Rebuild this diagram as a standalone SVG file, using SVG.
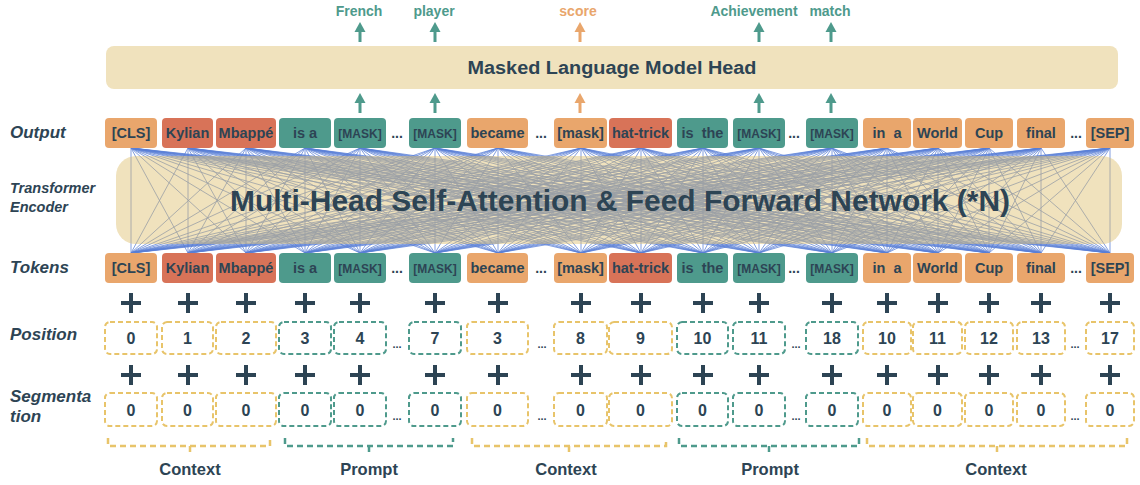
<svg xmlns="http://www.w3.org/2000/svg" width="1140" height="485" viewBox="0 0 1140 485">
<defs>
<style>
text{font-family:"Liberation Sans",Arial,sans-serif;fill:#2d4454;}
.lbl{font-weight:bold;font-style:italic;font-size:17px;}
.tk{font-size:14.5px;font-weight:bold;text-anchor:middle;}
.mk{font-size:12px;font-weight:bold;text-anchor:middle;}
.o{fill:#e9a66c}.r{fill:#d87358}.g{fill:#4e9a8c}
.dy{fill:#fff;stroke:#e8c46a;stroke-width:2;stroke-dasharray:5 3}
.dg{fill:#fff;stroke:#4e9a8c;stroke-width:2;stroke-dasharray:5 3}
.num{font-size:16px;font-weight:bold;text-anchor:middle;}
.plus{fill:none;stroke:#2d4454;stroke-width:4}
.br{fill:none;stroke-width:2.5;stroke-dasharray:6 4}
.dots{font-size:14px;font-weight:bold;text-anchor:middle}
.sdots{font-size:11px;font-weight:bold;text-anchor:middle}
.top{font-size:14px;font-weight:bold;text-anchor:middle}
.bot{font-size:16.5px;font-weight:bold;text-anchor:middle}
</style>
<clipPath id="boxclip"><rect x="116" y="156" width="1006" height="88" rx="20"/></clipPath>
<g id="arr"><rect x="-1.5" y="9" width="3" height="11"/><path d="M-5.5 10L5.5 10L0 0Z"/></g>
<path id="plus" d="M-10 0H10M0 -10V10"/>
<g id="att" fill="none">
<path d="M131 148L131 253M131 148L188 253M131 148L246 253M131 148L305 253M131 148L360 253M131 148L435 253M131 148L498 253M131 148L581 253M131 148L641 253M131 148L703 253M131 148L759 253M131 148L832 253M131 148L887 253M131 148L938 253M131 148L989 253M131 148L1041 253M131 148L1110 253"/>
<path d="M188 148L131 253M188 148L188 253M188 148L246 253M188 148L305 253M188 148L360 253M188 148L435 253M188 148L498 253M188 148L581 253M188 148L641 253M188 148L703 253M188 148L759 253M188 148L832 253M188 148L887 253M188 148L938 253M188 148L989 253M188 148L1041 253M188 148L1110 253"/>
<path d="M246 148L131 253M246 148L188 253M246 148L246 253M246 148L305 253M246 148L360 253M246 148L435 253M246 148L498 253M246 148L581 253M246 148L641 253M246 148L703 253M246 148L759 253M246 148L832 253M246 148L887 253M246 148L938 253M246 148L989 253M246 148L1041 253M246 148L1110 253"/>
<path d="M305 148L131 253M305 148L188 253M305 148L246 253M305 148L305 253M305 148L360 253M305 148L435 253M305 148L498 253M305 148L581 253M305 148L641 253M305 148L703 253M305 148L759 253M305 148L832 253M305 148L887 253M305 148L938 253M305 148L989 253M305 148L1041 253M305 148L1110 253"/>
<path d="M360 148L131 253M360 148L188 253M360 148L246 253M360 148L305 253M360 148L360 253M360 148L435 253M360 148L498 253M360 148L581 253M360 148L641 253M360 148L703 253M360 148L759 253M360 148L832 253M360 148L887 253M360 148L938 253M360 148L989 253M360 148L1041 253M360 148L1110 253"/>
<path d="M435 148L131 253M435 148L188 253M435 148L246 253M435 148L305 253M435 148L360 253M435 148L435 253M435 148L498 253M435 148L581 253M435 148L641 253M435 148L703 253M435 148L759 253M435 148L832 253M435 148L887 253M435 148L938 253M435 148L989 253M435 148L1041 253M435 148L1110 253"/>
<path d="M498 148L131 253M498 148L188 253M498 148L246 253M498 148L305 253M498 148L360 253M498 148L435 253M498 148L498 253M498 148L581 253M498 148L641 253M498 148L703 253M498 148L759 253M498 148L832 253M498 148L887 253M498 148L938 253M498 148L989 253M498 148L1041 253M498 148L1110 253"/>
<path d="M581 148L131 253M581 148L188 253M581 148L246 253M581 148L305 253M581 148L360 253M581 148L435 253M581 148L498 253M581 148L581 253M581 148L641 253M581 148L703 253M581 148L759 253M581 148L832 253M581 148L887 253M581 148L938 253M581 148L989 253M581 148L1041 253M581 148L1110 253"/>
<path d="M641 148L131 253M641 148L188 253M641 148L246 253M641 148L305 253M641 148L360 253M641 148L435 253M641 148L498 253M641 148L581 253M641 148L641 253M641 148L703 253M641 148L759 253M641 148L832 253M641 148L887 253M641 148L938 253M641 148L989 253M641 148L1041 253M641 148L1110 253"/>
<path d="M703 148L131 253M703 148L188 253M703 148L246 253M703 148L305 253M703 148L360 253M703 148L435 253M703 148L498 253M703 148L581 253M703 148L641 253M703 148L703 253M703 148L759 253M703 148L832 253M703 148L887 253M703 148L938 253M703 148L989 253M703 148L1041 253M703 148L1110 253"/>
<path d="M759 148L131 253M759 148L188 253M759 148L246 253M759 148L305 253M759 148L360 253M759 148L435 253M759 148L498 253M759 148L581 253M759 148L641 253M759 148L703 253M759 148L759 253M759 148L832 253M759 148L887 253M759 148L938 253M759 148L989 253M759 148L1041 253M759 148L1110 253"/>
<path d="M832 148L131 253M832 148L188 253M832 148L246 253M832 148L305 253M832 148L360 253M832 148L435 253M832 148L498 253M832 148L581 253M832 148L641 253M832 148L703 253M832 148L759 253M832 148L832 253M832 148L887 253M832 148L938 253M832 148L989 253M832 148L1041 253M832 148L1110 253"/>
<path d="M887 148L131 253M887 148L188 253M887 148L246 253M887 148L305 253M887 148L360 253M887 148L435 253M887 148L498 253M887 148L581 253M887 148L641 253M887 148L703 253M887 148L759 253M887 148L832 253M887 148L887 253M887 148L938 253M887 148L989 253M887 148L1041 253M887 148L1110 253"/>
<path d="M938 148L131 253M938 148L188 253M938 148L246 253M938 148L305 253M938 148L360 253M938 148L435 253M938 148L498 253M938 148L581 253M938 148L641 253M938 148L703 253M938 148L759 253M938 148L832 253M938 148L887 253M938 148L938 253M938 148L989 253M938 148L1041 253M938 148L1110 253"/>
<path d="M989 148L131 253M989 148L188 253M989 148L246 253M989 148L305 253M989 148L360 253M989 148L435 253M989 148L498 253M989 148L581 253M989 148L641 253M989 148L703 253M989 148L759 253M989 148L832 253M989 148L887 253M989 148L938 253M989 148L989 253M989 148L1041 253M989 148L1110 253"/>
<path d="M1041 148L131 253M1041 148L188 253M1041 148L246 253M1041 148L305 253M1041 148L360 253M1041 148L435 253M1041 148L498 253M1041 148L581 253M1041 148L641 253M1041 148L703 253M1041 148L759 253M1041 148L832 253M1041 148L887 253M1041 148L938 253M1041 148L989 253M1041 148L1041 253M1041 148L1110 253"/>
<path d="M1110 148L131 253M1110 148L188 253M1110 148L246 253M1110 148L305 253M1110 148L360 253M1110 148L435 253M1110 148L498 253M1110 148L581 253M1110 148L641 253M1110 148L703 253M1110 148L759 253M1110 148L832 253M1110 148L887 253M1110 148L938 253M1110 148L989 253M1110 148L1041 253M1110 148L1110 253"/>
</g>
</defs>
<rect width="1140" height="485" fill="#fff"/>

<g id="connectors">
<use href="#att" stroke="#5a7fd6" stroke-width="0.75"/>
<g id="arrows">
<use href="#arr" x="360" y="22" fill="#4e9a8c"/>
<use href="#arr" x="435" y="22" fill="#4e9a8c"/>
<use href="#arr" x="580" y="22" fill="#e9a66c"/>
<use href="#arr" x="759" y="22" fill="#4e9a8c"/>
<use href="#arr" x="831" y="22" fill="#4e9a8c"/>
<use href="#arr" x="360" y="93" fill="#4e9a8c"/>
<use href="#arr" x="435" y="93" fill="#4e9a8c"/>
<use href="#arr" x="580" y="93" fill="#e9a66c"/>
<use href="#arr" x="759" y="93" fill="#4e9a8c"/>
<use href="#arr" x="831" y="93" fill="#4e9a8c"/>
</g>
</g>

<g id="encoder">
<rect x="116" y="156" width="1006" height="88" rx="20" fill="#f0e2bd"/>
<use href="#att" stroke="#9aa0a6" stroke-width="0.8" clip-path="url(#boxclip)"/>
<text x="620" y="211" text-anchor="middle" font-size="29" font-weight="bold" textLength="780" lengthAdjust="spacingAndGlyphs">Multi-Head Self-Attention &amp; Feed Forward Network (*N)</text>
</g>

<g id="mlm-head">
<rect x="106" y="46" width="1012" height="43" rx="8" fill="#f0e2bd"/>
<text x="612" y="74" text-anchor="middle" font-size="18" font-weight="bold" textLength="289" lengthAdjust="spacingAndGlyphs">Masked Language Model Head</text>
</g>

<g id="predictions">
<text class="top" x="359" y="16" style="fill:#4e9a8c">French</text>
<text class="top" x="434" y="16" style="fill:#4e9a8c">player</text>
<text class="top" x="578" y="16" style="fill:#e9a66c">score</text>
<text class="top" x="754" y="16" style="fill:#4e9a8c">Achievement</text>
<text class="top" x="830" y="16" style="fill:#4e9a8c">match</text>
</g>

<g id="row-labels">
<text class="lbl" x="10" y="138">Output</text>
<text class="lbl" x="10" y="193" style="font-size:14.5px">Transformer</text>
<text class="lbl" x="10" y="212" style="font-size:14.5px">Encoder</text>
<text class="lbl" x="10" y="273">Tokens</text>
<text class="lbl" x="10" y="340">Position</text>
<text class="lbl" x="10" y="402">Segmenta</text>
<text class="lbl" x="10" y="422">tion</text>
</g>

<g id="output-row">
<g id="out-1"><rect class="o" x="105" y="118" width="52" height="30" rx="4"/><text class="tk" x="131" y="138">[CLS]</text></g>
<g id="out-2"><rect class="r" x="162" y="118" width="51" height="30" rx="4"/><text class="tk" x="187.5" y="138">Kylian</text></g>
<g id="out-3"><rect class="r" x="216" y="118" width="60" height="30" rx="4"/><text class="tk" x="246" y="138">Mbappé</text></g>
<g id="out-4"><rect class="g" x="279" y="118" width="52" height="30" rx="4"/><text class="tk" x="305" y="138">is a</text></g>
<g id="out-5"><rect class="g" x="334" y="118" width="52" height="30" rx="4"/><text class="mk" x="360" y="137.5">[MASK]</text></g>
<text class="dots" x="397" y="138">...</text>
<g id="out-6"><rect class="g" x="409" y="118" width="52" height="30" rx="4"/><text class="mk" x="435" y="137.5">[MASK]</text></g>
<g id="out-7"><rect class="o" x="467" y="118" width="61" height="30" rx="4"/><text class="tk" x="497.5" y="138">became</text></g>
<text class="dots" x="541" y="138">...</text>
<g id="out-8"><rect class="o" x="554" y="118" width="53" height="30" rx="4"/><text class="tk" x="580.5" y="138">[mask]</text></g>
<g id="out-9"><rect class="r" x="609" y="118" width="63" height="30" rx="4"/><text class="tk" x="640.5" y="138">hat-trick</text></g>
<g id="out-10"><rect class="g" x="677" y="118" width="51" height="30" rx="4"/><text class="tk" x="702.5" y="138" word-spacing="4">is the</text></g>
<g id="out-11"><rect class="g" x="733" y="118" width="52" height="30" rx="4"/><text class="mk" x="759" y="137.5">[MASK]</text></g>
<text class="dots" x="794" y="138">...</text>
<g id="out-12"><rect class="g" x="806" y="118" width="52" height="30" rx="4"/><text class="mk" x="832" y="137.5">[MASK]</text></g>
<g id="out-13"><rect class="o" x="863" y="118" width="48" height="30" rx="4"/><text class="tk" x="887" y="138" word-spacing="4">in a</text></g>
<g id="out-14"><rect class="o" x="913" y="118" width="49" height="30" rx="4"/><text class="tk" x="937.5" y="138">World</text></g>
<g id="out-15"><rect class="o" x="965" y="118" width="48" height="30" rx="4"/><text class="tk" x="989" y="138">Cup</text></g>
<g id="out-16"><rect class="o" x="1017" y="118" width="48" height="30" rx="4"/><text class="tk" x="1041" y="138">final</text></g>
<text class="dots" x="1076" y="138">...</text>
<g id="out-17"><rect class="o" x="1086" y="118" width="48" height="30" rx="4"/><text class="tk" x="1110" y="138">[SEP]</text></g>
</g>

<g id="token-row">
<g id="tok-1"><rect class="o" x="105" y="253" width="52" height="30" rx="4"/><text class="tk" x="131" y="273">[CLS]</text></g>
<g id="tok-2"><rect class="r" x="162" y="253" width="51" height="30" rx="4"/><text class="tk" x="187.5" y="273">Kylian</text></g>
<g id="tok-3"><rect class="r" x="216" y="253" width="60" height="30" rx="4"/><text class="tk" x="246" y="273">Mbappé</text></g>
<g id="tok-4"><rect class="g" x="279" y="253" width="52" height="30" rx="4"/><text class="tk" x="305" y="273">is a</text></g>
<g id="tok-5"><rect class="g" x="334" y="253" width="52" height="30" rx="4"/><text class="mk" x="360" y="272.5">[MASK]</text></g>
<text class="dots" x="397" y="273">...</text>
<g id="tok-6"><rect class="g" x="409" y="253" width="52" height="30" rx="4"/><text class="mk" x="435" y="272.5">[MASK]</text></g>
<g id="tok-7"><rect class="o" x="467" y="253" width="61" height="30" rx="4"/><text class="tk" x="497.5" y="273">became</text></g>
<text class="dots" x="541" y="273">...</text>
<g id="tok-8"><rect class="o" x="554" y="253" width="53" height="30" rx="4"/><text class="tk" x="580.5" y="273">[mask]</text></g>
<g id="tok-9"><rect class="r" x="609" y="253" width="63" height="30" rx="4"/><text class="tk" x="640.5" y="273">hat-trick</text></g>
<g id="tok-10"><rect class="g" x="677" y="253" width="51" height="30" rx="4"/><text class="tk" x="702.5" y="273" word-spacing="4">is the</text></g>
<g id="tok-11"><rect class="g" x="733" y="253" width="52" height="30" rx="4"/><text class="mk" x="759" y="272.5">[MASK]</text></g>
<text class="dots" x="794" y="273">...</text>
<g id="tok-12"><rect class="g" x="806" y="253" width="52" height="30" rx="4"/><text class="mk" x="832" y="272.5">[MASK]</text></g>
<g id="tok-13"><rect class="o" x="863" y="253" width="48" height="30" rx="4"/><text class="tk" x="887" y="273" word-spacing="4">in a</text></g>
<g id="tok-14"><rect class="o" x="913" y="253" width="49" height="30" rx="4"/><text class="tk" x="937.5" y="273">World</text></g>
<g id="tok-15"><rect class="o" x="965" y="253" width="48" height="30" rx="4"/><text class="tk" x="989" y="273">Cup</text></g>
<g id="tok-16"><rect class="o" x="1017" y="253" width="48" height="30" rx="4"/><text class="tk" x="1041" y="273">final</text></g>
<text class="dots" x="1076" y="273">...</text>
<g id="tok-17"><rect class="o" x="1086" y="253" width="48" height="30" rx="4"/><text class="tk" x="1110" y="273">[SEP]</text></g>
</g>

<g id="plus-signs" class="plus">
<use href="#plus" x="131" y="303"/><use href="#plus" x="188" y="303"/><use href="#plus" x="246" y="303"/><use href="#plus" x="305" y="303"/><use href="#plus" x="360" y="303"/><use href="#plus" x="435" y="303"/><use href="#plus" x="498" y="303"/><use href="#plus" x="581" y="303"/><use href="#plus" x="641" y="303"/><use href="#plus" x="703" y="303"/><use href="#plus" x="759" y="303"/><use href="#plus" x="832" y="303"/><use href="#plus" x="887" y="303"/><use href="#plus" x="938" y="303"/><use href="#plus" x="989" y="303"/><use href="#plus" x="1041" y="303"/><use href="#plus" x="1110" y="303"/>
<use href="#plus" x="131" y="375"/><use href="#plus" x="188" y="375"/><use href="#plus" x="246" y="375"/><use href="#plus" x="305" y="375"/><use href="#plus" x="360" y="375"/><use href="#plus" x="435" y="375"/><use href="#plus" x="498" y="375"/><use href="#plus" x="581" y="375"/><use href="#plus" x="641" y="375"/><use href="#plus" x="703" y="375"/><use href="#plus" x="759" y="375"/><use href="#plus" x="832" y="375"/><use href="#plus" x="887" y="375"/><use href="#plus" x="938" y="375"/><use href="#plus" x="989" y="375"/><use href="#plus" x="1041" y="375"/><use href="#plus" x="1110" y="375"/>
</g>

<g id="position-row">
<g id="pos-1"><rect class="dy" x="105" y="322" width="52" height="32" rx="5"/><text class="num" x="131" y="344">0</text></g>
<g id="pos-2"><rect class="dy" x="162" y="322" width="51" height="32" rx="5"/><text class="num" x="187.5" y="344">1</text></g>
<g id="pos-3"><rect class="dy" x="216" y="322" width="60" height="32" rx="5"/><text class="num" x="246" y="344">2</text></g>
<g id="pos-4"><rect class="dg" x="279" y="322" width="52" height="32" rx="5"/><text class="num" x="305" y="344">3</text></g>
<g id="pos-5"><rect class="dg" x="334" y="322" width="52" height="32" rx="5"/><text class="num" x="360" y="344">4</text></g>
<text class="sdots" x="397" y="348">...</text>
<g id="pos-6"><rect class="dg" x="409" y="322" width="52" height="32" rx="5"/><text class="num" x="435" y="344">7</text></g>
<g id="pos-7"><rect class="dy" x="467" y="322" width="61" height="32" rx="5"/><text class="num" x="497.5" y="344">3</text></g>
<text class="sdots" x="542" y="348">...</text>
<g id="pos-8"><rect class="dy" x="554" y="322" width="53" height="32" rx="5"/><text class="num" x="580.5" y="344">8</text></g>
<g id="pos-9"><rect class="dy" x="609" y="322" width="63" height="32" rx="5"/><text class="num" x="640.5" y="344">9</text></g>
<g id="pos-10"><rect class="dg" x="677" y="322" width="51" height="32" rx="5"/><text class="num" x="702.5" y="344">10</text></g>
<g id="pos-11"><rect class="dg" x="733" y="322" width="52" height="32" rx="5"/><text class="num" x="759" y="344">11</text></g>
<text class="sdots" x="796" y="348">...</text>
<g id="pos-12"><rect class="dg" x="806" y="322" width="52" height="32" rx="5"/><text class="num" x="832" y="344">18</text></g>
<g id="pos-13"><rect class="dy" x="863" y="322" width="48" height="32" rx="5"/><text class="num" x="887" y="344">10</text></g>
<g id="pos-14"><rect class="dy" x="913" y="322" width="49" height="32" rx="5"/><text class="num" x="937.5" y="344">11</text></g>
<g id="pos-15"><rect class="dy" x="965" y="322" width="48" height="32" rx="5"/><text class="num" x="989" y="344">12</text></g>
<g id="pos-16"><rect class="dy" x="1017" y="322" width="48" height="32" rx="5"/><text class="num" x="1041" y="344">13</text></g>
<text class="sdots" x="1075" y="348">...</text>
<g id="pos-17"><rect class="dy" x="1086" y="322" width="48" height="32" rx="5"/><text class="num" x="1110" y="344">17</text></g>
</g>

<g id="segment-row">
<g id="seg-1"><rect class="dy" x="105" y="393" width="52" height="33" rx="5"/><text class="num" x="131" y="416">0</text></g>
<g id="seg-2"><rect class="dy" x="162" y="393" width="51" height="33" rx="5"/><text class="num" x="187.5" y="416">0</text></g>
<g id="seg-3"><rect class="dy" x="216" y="393" width="60" height="33" rx="5"/><text class="num" x="246" y="416">0</text></g>
<g id="seg-4"><rect class="dg" x="279" y="393" width="52" height="33" rx="5"/><text class="num" x="305" y="416">0</text></g>
<g id="seg-5"><rect class="dg" x="334" y="393" width="52" height="33" rx="5"/><text class="num" x="360" y="416">0</text></g>
<text class="sdots" x="397" y="420">...</text>
<g id="seg-6"><rect class="dg" x="409" y="393" width="52" height="33" rx="5"/><text class="num" x="435" y="416">0</text></g>
<g id="seg-7"><rect class="dy" x="467" y="393" width="61" height="33" rx="5"/><text class="num" x="497.5" y="416">0</text></g>
<text class="sdots" x="542" y="420">...</text>
<g id="seg-8"><rect class="dy" x="554" y="393" width="53" height="33" rx="5"/><text class="num" x="580.5" y="416">0</text></g>
<g id="seg-9"><rect class="dy" x="609" y="393" width="63" height="33" rx="5"/><text class="num" x="640.5" y="416">0</text></g>
<g id="seg-10"><rect class="dg" x="677" y="393" width="51" height="33" rx="5"/><text class="num" x="702.5" y="416">0</text></g>
<g id="seg-11"><rect class="dg" x="733" y="393" width="52" height="33" rx="5"/><text class="num" x="759" y="416">0</text></g>
<text class="sdots" x="796" y="420">...</text>
<g id="seg-12"><rect class="dg" x="806" y="393" width="52" height="33" rx="5"/><text class="num" x="832" y="416">0</text></g>
<g id="seg-13"><rect class="dy" x="863" y="393" width="48" height="33" rx="5"/><text class="num" x="887" y="416">0</text></g>
<g id="seg-14"><rect class="dy" x="913" y="393" width="49" height="33" rx="5"/><text class="num" x="937.5" y="416">0</text></g>
<g id="seg-15"><rect class="dy" x="965" y="393" width="48" height="33" rx="5"/><text class="num" x="989" y="416">0</text></g>
<g id="seg-16"><rect class="dy" x="1017" y="393" width="48" height="33" rx="5"/><text class="num" x="1041" y="416">0</text></g>
<text class="sdots" x="1075" y="420">...</text>
<g id="seg-17"><rect class="dy" x="1086" y="393" width="48" height="33" rx="5"/><text class="num" x="1110" y="416">0</text></g>
</g>

<g id="groups">
<g id="ctx-1"><path class="br" stroke="#e8c46a" d="M108 438V446H270V438M190 446V453"/><text class="bot" x="190" y="475">Context</text></g>
<g id="prm-1"><path class="br" stroke="#4e9a8c" d="M285 438V446H453V438M369 446V453"/><text class="bot" x="369" y="475">Prompt</text></g>
<g id="ctx-2"><path class="br" stroke="#e8c46a" d="M472 438V446H666V438M569 446V453"/><text class="bot" x="566" y="475">Context</text></g>
<g id="prm-2"><path class="br" stroke="#4e9a8c" d="M679 438V446H859V438M769 446V453"/><text class="bot" x="770" y="475">Prompt</text></g>
<g id="ctx-3"><path class="br" stroke="#e8c46a" d="M867 438V446H1127V438M997 446V453"/><text class="bot" x="996" y="475">Context</text></g>
</g>
</svg>
